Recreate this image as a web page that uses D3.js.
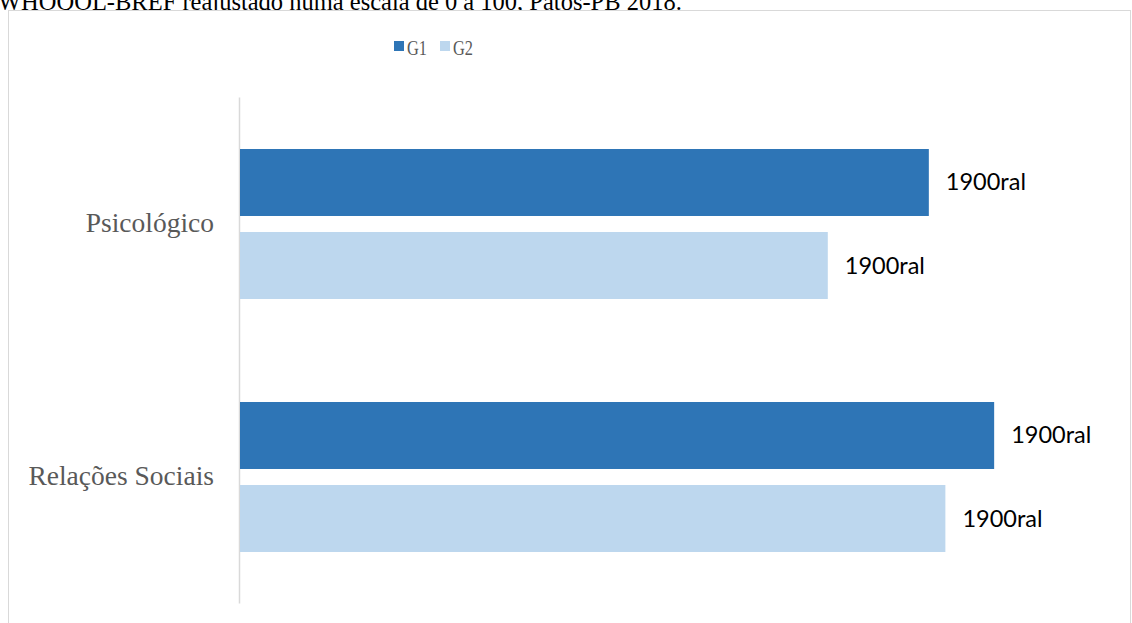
<!DOCTYPE html>
<html>
<head>
<meta charset="utf-8">
<script src="https://cdn.jsdelivr.net/npm/d3@7"></script>
<style>
  body { margin: 0; background: #fff; }
</style>
</head>
<body>
<div id="chart"></div>
<script>
const categories = ["Psicológico", "Relações Sociais"];
const series = ["G1", "G2"];
const g1Values = [79.2, 86.7];
const g2Values = [67.6, 81.1];
const labelText = "1900ral";
const title = "WHOQOL-BREF reajustado numa escala de 0 a 100, Patos-PB 2018.";

const width = 1132;
const height = 623;
const colors = { G1: "#2e75b6", G2: "#bdd7ee" };

const data = categories.map((c, i) => ({
  cat: c,
  values: [
    { key: "G1", value: g1Values[i] },
    { key: "G2", value: g2Values[i] },
  ],
}));

const svg = d3
  .select("#chart")
  .append("svg")
  .attr("width", width)
  .attr("height", height);

// titulo cortado pelo quadro do grafico
svg
  .append("text")
  .attr("x", -2)
  .attr("y", 10)
  .attr("font-family", "'Liberation Serif', serif")
  .attr("font-size", 24.5)
  .attr("fill", "#000")
  .text(title);

svg
  .append("rect")
  .attr("x", 8.5)
  .attr("y", 10.5)
  .attr("width", 1122)
  .attr("height", 640)
  .attr("fill", "#fff")
  .attr("stroke", "#d9d9d9");

const x = d3.scaleLinear().domain([0, 100]).range([239, 1110]);
const y = d3.scaleBand().domain(categories).range([97, 603]).padding(0);
const yInner = d3
  .scaleBand()
  .domain(series)
  .range([52, 202])
  .paddingInner(0.193);

// eixo vertical
const yAxis = svg
  .append("g")
  .attr("transform", "translate(239,0)")
  .call(d3.axisLeft(y).tickSize(0).tickPadding(25));
yAxis.select(".domain").attr("stroke", "#d9d9d9").attr("stroke-width", 1.5);
yAxis
  .selectAll("text")
  .attr("font-family", "'Liberation Serif', serif")
  .attr("font-size", 27.5)
  .attr("fill", "#595959");

const groups = svg
  .append("g")
  .selectAll("g")
  .data(data)
  .join("g")
  .attr("transform", (d) => `translate(0,${y(d.cat)})`);

groups
  .selectAll("rect")
  .data((d) => d.values)
  .join("rect")
  .attr("x", x(0) + 1)
  .attr("y", (d) => yInner(d.key))
  .attr("width", (d) => x(d.value) - x(0) - 1)
  .attr("height", yInner.bandwidth())
  .attr("fill", (d) => colors[d.key]);

groups
  .selectAll("text")
  .data((d) => d.values)
  .join("text")
  .attr("x", (d) => x(d.value) + 17)
  .attr("y", (d) => yInner(d.key) + yInner.bandwidth() / 2 + 8)
  .attr("font-family", "Lato, 'Open Sans', sans-serif")
  .attr("font-size", 23.5)
  .attr("fill", "#000")
  .text(labelText);

// legenda
const legend = svg
  .append("g")
  .selectAll("g")
  .data(series)
  .join("g")
  .attr("transform", (d, i) => `translate(${394 + i * 46},41)`);
legend
  .append("rect")
  .attr("width", 10)
  .attr("height", 10)
  .attr("fill", (d) => colors[d]);
legend
  .append("text")
  .attr("x", 13)
  .attr("y", 14)
  .attr("font-family", "'Liberation Serif', serif")
  .attr("font-size", 22)
  .attr("textLength", 20)
  .attr("lengthAdjust", "spacingAndGlyphs")
  .attr("fill", "#595959")
  .text((d) => d);
</script>
</body>
</html>
